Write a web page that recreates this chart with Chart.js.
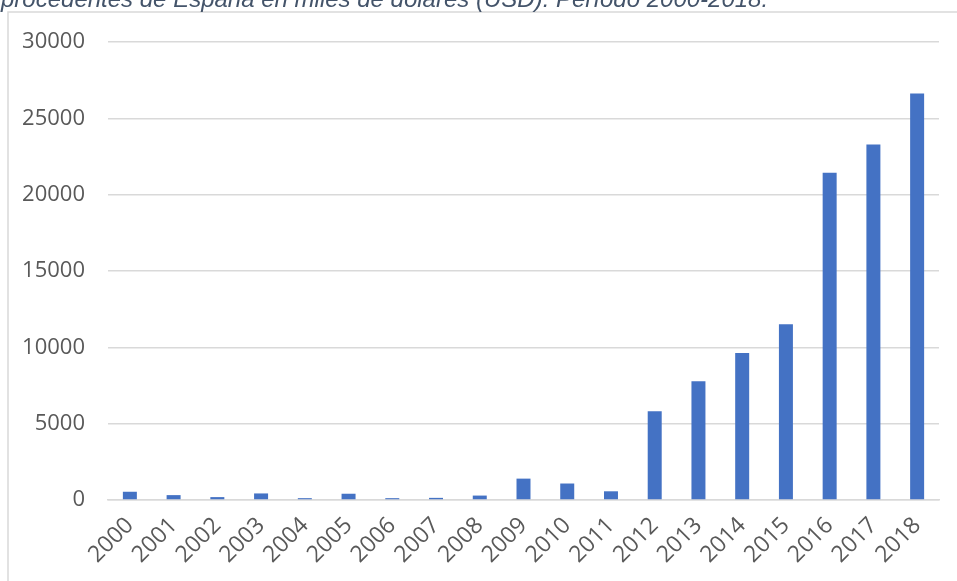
<!DOCTYPE html>
<html>
<head>
<meta charset="utf-8">
<script src="https://cdn.jsdelivr.net/npm/chart.js@4/dist/chart.umd.min.js"></script>
<style>
  html, body { margin: 0; padding: 0; background: #ffffff; }
  #wrap { position: relative; width: 957px; height: 581px; }
</style>
</head>
<body>
<div id="wrap"><canvas id="c" width="957" height="581"></canvas></div>
<script>
const titleText = "procedentes de España en miles de dólares (USD). Período 2000-2018.";
const years = ["2000","2001","2002","2003","2004","2005","2006","2007","2008","2009","2010","2011","2012","2013","2014","2015","2016","2017","2018"];
const values = [540, 320, 190, 430, 120, 410, 120, 140, 290, 1400, 1080, 570, 5810, 7780, 9630, 11510, 21430, 23280, 26630];
const yTicks = [0, 5000, 10000, 15000, 20000, 25000, 30000];

const framePlugin = {
  id: 'frame',
  beforeDraw(chart) {
    const ctx = chart.ctx;
    ctx.save();
    ctx.fillStyle = '#ffffff';
    ctx.fillRect(0, 0, chart.width, chart.height);
    ctx.strokeStyle = '#d9d9d9';
    ctx.lineWidth = 1.5;
    ctx.beginPath();
    ctx.moveTo(8, chart.height);
    ctx.lineTo(8, 12);
    ctx.lineTo(chart.width, 12);
    ctx.stroke();
    ctx.fillStyle = '#44546a';
    ctx.font = 'italic 24px "Liberation Sans", Arial, sans-serif';
    ctx.textBaseline = 'alphabetic';
    ctx.textAlign = 'left';
    ctx.fillText(titleText, 1, 7);
    ctx.restore();
  }
};

new Chart(document.getElementById('c'), {
  type: 'bar',
  data: {
    labels: years,
    datasets: [{
      data: values,
      backgroundColor: '#4472c4',
      borderWidth: 0,
      categoryPercentage: 1,
      barPercentage: 0.32
    }]
  },
  options: {
    responsive: false,
    animation: false,
    devicePixelRatio: 1,
    layout: { padding: { top: 42, right: 18, left: 0, bottom: 0 } },
    plugins: { legend: { display: false }, tooltip: { enabled: false }, title: { display: false } },
    scales: {
      x: {
        grid: { display: false, drawTicks: false },
        border: { display: true, color: '#d9d9d9', width: 1.5 },
        ticks: {
          color: '#595959',
          font: { family: '"Open Sans", sans-serif', size: 23 },
          minRotation: 45, maxRotation: 45,
          padding: 12,
          autoSkip: false
        },
        afterFit(scale) { scale.height = 81; }
      },
      y: {
        min: 0, max: 30000,
        afterBuildTicks(scale) { scale.ticks = yTicks.map(v => ({ value: v })); },
        grid: { color: '#d9d9d9', lineWidth: 1.5, drawTicks: false },
        border: { display: false },
        ticks: {
          color: '#595959',
          font: { family: '"Open Sans", sans-serif', size: 22 },
          padding: 23,
          callback: (v) => String(v)
        },
        afterFit(scale) { scale.width = 108; }
      }
    }
  },
  plugins: [framePlugin]
});
</script>
</body>
</html>
